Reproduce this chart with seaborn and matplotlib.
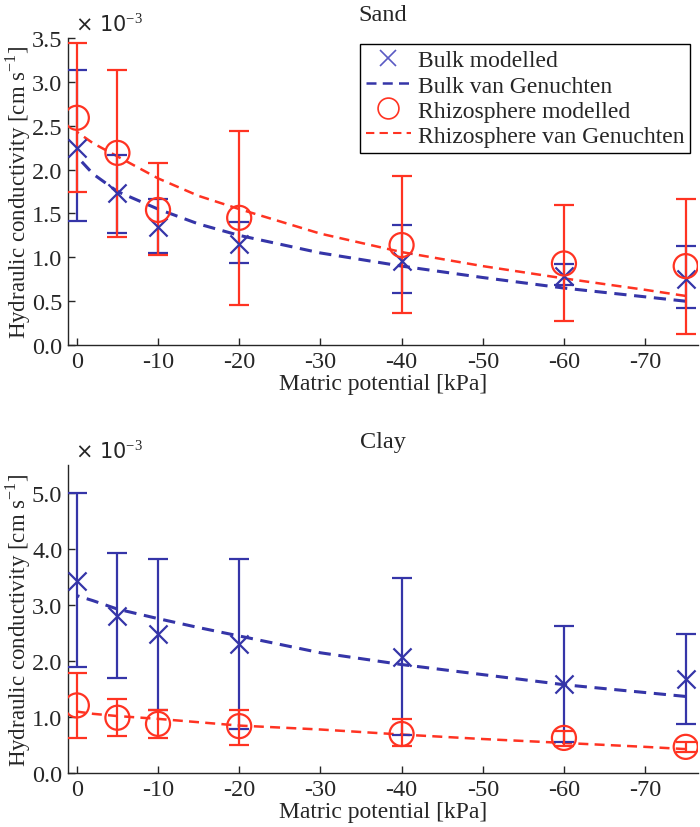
import matplotlib
matplotlib.use("Agg")
import matplotlib.pyplot as plt
import seaborn as sns
import pandas as pd
from matplotlib.lines import Line2D

# matric potential of the measured points [kPa]
potential = [0, -5, -10, -20, -40, -60, -75]

# Sand, values in 1e-3 cm/s
sand_bulk = [2.25, 1.73, 1.35, 1.15, 0.96, 0.79, 0.75]
sand_bulk_hi = [3.13, 2.17, 1.66, 1.40, 1.37, 0.92, 1.13]
sand_bulk_lo = [1.41, 1.28, 1.05, 0.94, 0.59, 0.68, 0.42]
sand_rhizo = [2.59, 2.19, 1.54, 1.45, 1.14, 0.93, 0.90]
sand_rhizo_hi = [3.44, 3.14, 2.07, 2.44, 1.93, 1.60, 1.66]
sand_rhizo_lo = [1.75, 1.23, 1.03, 0.46, 0.37, 0.28, 0.13]

# Clay, values in 1e-3 cm/s
clay_bulk = [3.43, 2.81, 2.48, 2.30, 2.08, 1.60, 1.68]
clay_bulk_hi = [5.00, 3.93, 3.82, 3.82, 3.49, 2.63, 2.49]
clay_bulk_lo = [1.89, 1.70, 1.12, 0.79, 0.69, 0.55, 0.88]
clay_rhizo = [1.21, 0.99, 0.88, 0.84, 0.70, 0.63, 0.47]
clay_rhizo_hi = [1.78, 1.33, 1.12, 1.13, 0.96, 0.75, 0.56]
clay_rhizo_lo = [0.63, 0.67, 0.63, 0.51, 0.49, 0.48, 0.37]

# van Genuchten curves
curve_potential = [0, -2, -5, -10, -15, -20, -30, -40, -50, -60, -70, -75]
sand_bulk_vg = [2.15, 1.95, 1.75, 1.55, 1.38, 1.25, 1.05, 0.90, 0.77, 0.65, 0.55, 0.50]
sand_rhizo_vg = [2.43, 2.30, 2.15, 1.90, 1.70, 1.55, 1.27, 1.06, 0.90, 0.76, 0.63, 0.56]
clay_bulk_vg = [3.17, 3.08, 2.93, 2.76, 2.60, 2.45, 2.15, 1.94, 1.76, 1.58, 1.44, 1.37]
clay_rhizo_vg = [1.10, 1.06, 1.02, 0.97, 0.91, 0.85, 0.78, 0.69, 0.61, 0.54, 0.47, 0.43]

BLUE = "#3535a8"
BLUE_LIGHT = "#5a5ac4"
RED = "#ff3322"
FS = 17

sns.set_style("ticks")
plt.rcParams["font.family"] = ["Liberation Serif", "DejaVu Serif"]
plt.rcParams["font.size"] = FS
plt.rcParams["mathtext.fontset"] = "custom"
plt.rcParams["mathtext.rm"] = "Liberation Serif"

fig = plt.figure(figsize=(7, 8.28), dpi=100)
ax1 = fig.add_axes([0.097, 0.582, 0.900, 0.371])
ax2 = fig.add_axes([0.097, 0.065, 0.900, 0.372])


def draw_panel(ax, title, bulk, b_hi, b_lo, rhizo, r_hi, r_lo, bulk_vg, rhizo_vg, ymax, yticks):
    df = pd.DataFrame({"x": curve_potential, "bulk": bulk_vg, "rhizo": rhizo_vg})
    sns.lineplot(data=df, x="x", y="bulk", ax=ax, color=BLUE, linewidth=2.2,
                 zorder=2).lines[-1].set_dashes([4, 2.5])
    sns.lineplot(data=df, x="x", y="rhizo", ax=ax, color=RED, linewidth=1.8,
                 zorder=2).lines[-1].set_dashes([4, 2.5])

    pts = pd.DataFrame({"x": potential, "bulk": bulk, "rhizo": rhizo})
    ax.errorbar(potential, bulk,
                yerr=[[b - l for b, l in zip(bulk, b_lo)], [h - b for b, h in zip(bulk, b_hi)]],
                fmt="none", ecolor=BLUE, elinewidth=1.6, capsize=7, capthick=1.6, zorder=3)
    ax.errorbar(potential, rhizo,
                yerr=[[r - l for r, l in zip(rhizo, r_lo)], [h - r for r, h in zip(rhizo, r_hi)]],
                fmt="none", ecolor=RED, elinewidth=1.6, capsize=7, capthick=1.6, zorder=3)
    sns.scatterplot(data=pts, x="x", y="bulk", ax=ax, marker="x", s=170, color=BLUE,
                    linewidth=1.6, zorder=4)
    sns.scatterplot(data=pts, x="x", y="rhizo", ax=ax, marker="o", s=300,
                    facecolor="none", edgecolor=RED, linewidth=1.6, zorder=4)

    ax.set_xlim(1.1, -76.5)
    ax.set_ylim(0, ymax)
    ax.set_xticks([0, -10, -20, -30, -40, -50, -60, -70])
    ax.set_xticklabels(["0", "-10", "-20", "-30", "-40", "-50", "-60", "-70"])
    ax.set_yticks(yticks)
    ax.set_yticklabels([f"{v:.1f}" for v in yticks])
    ax.tick_params(direction="in", length=5, width=1, labelsize=FS + 0.5, pad=4)
    sns.despine(ax=ax)
    ax.spines["left"].set_linewidth(1)
    ax.spines["bottom"].set_linewidth(1)
    ax.set_xlabel("Matric potential [kPa]", fontsize=FS, labelpad=1)
    ax.set_ylabel("Hydraulic conductivity [cm s$^{-1}$]", fontsize=16.5)
    ax.yaxis.set_label_coords(-0.056, 0.5)
    ax.set_title(title, fontsize=FS + 0.5, pad=13)
    ax.text(0.012, 1.01, "\u00d7 10$^{-3}$", transform=ax.transAxes, fontsize=15,
            family="DejaVu Sans", va="bottom", ha="left")


draw_panel(ax1, "Sand", sand_bulk, sand_bulk_hi, sand_bulk_lo,
           sand_rhizo, sand_rhizo_hi, sand_rhizo_lo, sand_bulk_vg, sand_rhizo_vg,
           3.5, [0.0, 0.5, 1.0, 1.5, 2.0, 2.5, 3.0, 3.5])
draw_panel(ax2, "Clay", clay_bulk, clay_bulk_hi, clay_bulk_lo,
           clay_rhizo, clay_rhizo_hi, clay_rhizo_lo, clay_bulk_vg, clay_rhizo_vg,
           5.5, [0.0, 1.0, 2.0, 3.0, 4.0, 5.0])

handles = [
    Line2D([], [], marker="x", linestyle="none", color=BLUE_LIGHT, markersize=12, markeredgewidth=1.2),
    Line2D([], [], color=BLUE, linewidth=1.8, dashes=[4, 2.5]),
    Line2D([], [], marker="o", linestyle="none", markerfacecolor="none", markeredgecolor=RED,
           markersize=15, markeredgewidth=1.2),
    Line2D([], [], color=RED, linewidth=1.5, dashes=[4, 2.5]),
]
labels = ["Bulk modelled", "Bulk van Genuchten", "Rhizosphere modelled", "Rhizosphere van Genuchten"]
leg = ax1.legend(handles, labels, loc="upper right", bbox_to_anchor=(0.988, 0.98), fontsize=FS,
                 frameon=True, fancybox=False, edgecolor="black", framealpha=1,
                 handlelength=1.9, handletextpad=0.3, borderpad=0.25, labelspacing=0.15,
                 borderaxespad=0)
leg.get_frame().set_linewidth(1)

fig.savefig("out.png", dpi=100)
